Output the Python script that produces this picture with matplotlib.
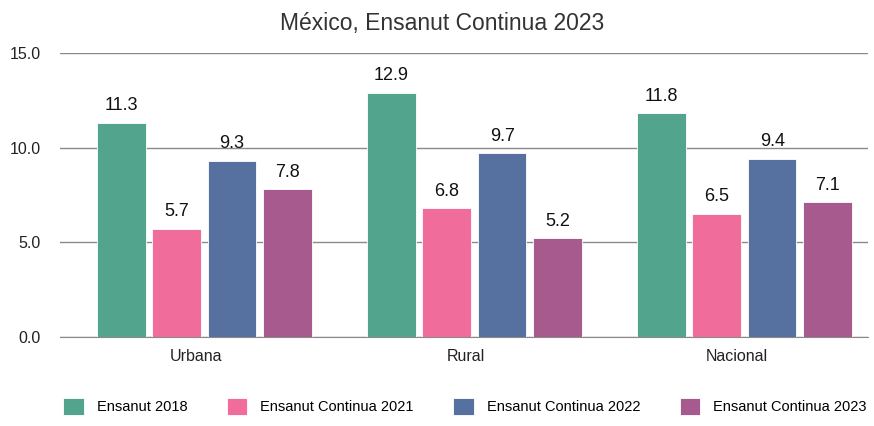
import matplotlib.pyplot as plt
import numpy as np

plt.rcParams['font.family'] = ['Liberation Sans', 'DejaVu Sans']

categories = ['Urbana', 'Rural', 'Nacional']
series = ['Ensanut 2018', 'Ensanut Continua 2021', 'Ensanut Continua 2022', 'Ensanut Continua 2023']
values = [
    [11.3, 12.9, 11.8],
    [5.7, 6.8, 6.5],
    [9.3, 9.7, 9.4],
    [7.8, 5.2, 7.1],
]
colors = ['#52A58C', '#F06C9B', '#5670A0', '#A65A8E']

fig = plt.figure(figsize=(8.74, 4.26), dpi=100)
ax = fig.add_axes([0.0686, 0.209, 0.9244, 0.667])

x = np.arange(len(categories))
width = 0.18
step = 0.205
for i, (name, vals) in enumerate(zip(series, values)):
    pos = x + (i - 1.5) * step
    bars = ax.bar(pos, vals, width, color=colors[i], label=name,
                  edgecolor='white', linewidth=0.6, zorder=3)
    for b, v in zip(bars, vals):
        ax.text(b.get_x() + b.get_width() / 2, v + 0.45, f'{v:.1f}',
                ha='center', va='bottom', fontsize=13, color='#111111', zorder=4)

ax.set_xlim(-0.535, 2.457)
ax.set_ylim(0, 15)
ax.set_yticks([0, 5, 10, 15])
ax.set_yticklabels([f'{t:.1f}' for t in [0, 5, 10, 15]])
ax.set_xticks(x - 0.03)
ax.set_xticklabels(categories)
ax.tick_params(length=0, labelsize=11.5, colors='#222222')
ax.tick_params(axis='y', pad=14)
ax.tick_params(axis='x', pad=9)
ax.grid(axis='y', color='#8a8a8a', linewidth=1, zorder=0)
for s in ['top', 'right', 'left']:
    ax.spines[s].set_visible(False)
ax.spines['bottom'].set_color('#8a8a8a')

fig.text(0.506, 0.945, 'México, Ensanut Continua 2023', fontsize=16.5,
         color='#333333', ha='center', va='center')

fig.legend(loc='lower center', ncol=4, frameon=False, fontsize=10.5,
           bbox_to_anchor=(0.532, -0.005), handlelength=1.4, handleheight=1.4,
           columnspacing=2.7, handletextpad=0.9)

plt.savefig('out.png')
